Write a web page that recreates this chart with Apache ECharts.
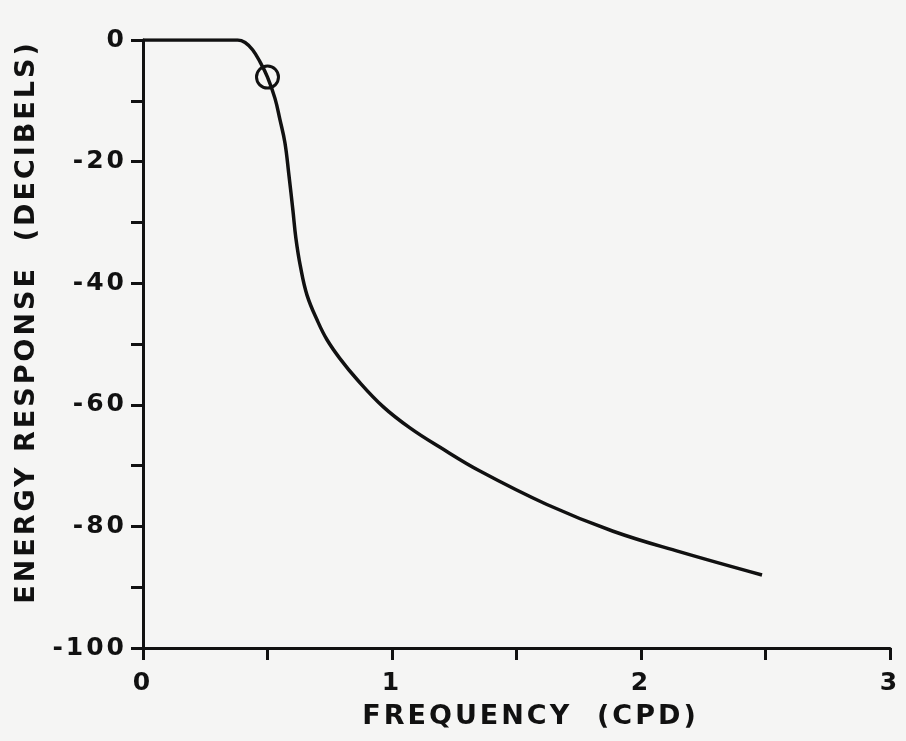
<!DOCTYPE html>
<html>
<head>
<meta charset="utf-8">
<script src="https://cdn.jsdelivr.net/npm/echarts@6/dist/echarts.min.js"></script>
<style>
  html, body { margin: 0; padding: 0; background: #f5f5f4; }
  #chart { width: 906px; height: 741px; }
</style>
</head>
<body>
<div id="chart"></div>
<script>
// Energy response of the filter versus spatial frequency
const frequency = [0, 0.2, 0.38, 0.41, 0.44, 0.47, 0.50, 0.53, 0.55, 0.57, 0.586, 0.602, 0.614, 0.632, 0.659, 0.703, 0.739, 0.791, 0.859, 0.964, 1.072, 1.193, 1.353, 1.622, 1.888, 2.157, 2.486];
const responseDb = [0, 0, 0, -0.4, -1.6, -3.6, -6.1, -9.6, -13.1, -16.9, -22.2, -28.0, -32.6, -37.2, -42.0, -46.4, -49.3, -52.4, -55.8, -60.3, -63.8, -67.0, -70.9, -76.4, -80.8, -84.2, -88.0];

// Half-power point marked with an open circle
const markerFrequency = [0.5];
const markerResponseDb = [-6.1];

const xTickLabels = ['0', '1', '2', '3'];
const yTickLabels = ['0', '-20', '-40', '-60', '-80', '-100'];

// Wide lettering-guide spacing for every piece of chart text
(function () {
  const proto = CanvasRenderingContext2D.prototype;
  const fill = proto.fillText, measure = proto.measureText;
  proto.fillText = function () { this.letterSpacing = '3px'; return fill.apply(this, arguments); };
  proto.measureText = function () { this.letterSpacing = '3px'; return measure.apply(this, arguments); };
})();

const ink = '#111111';
const font = 'DejaVu Sans';

const chart = echarts.init(document.getElementById('chart'), null, { renderer: 'canvas' });

chart.setOption({
  backgroundColor: '#f5f5f4',
  animation: false,
  grid: { left: 143, right: 16, top: 40, bottom: 93, containLabel: false },
  xAxis: {
    type: 'value',
    min: 0, max: 3, interval: 0.5,
    name: 'FREQUENCY  (CPD)',
    nameLocation: 'middle',
    nameGap: 45,
    nameTextStyle: { color: ink, fontFamily: font, fontSize: 27, fontWeight: 'bold', padding: [0, 0, 0, 28] },
    axisLine: { onZero: false, lineStyle: { color: ink, width: 3 } },
    axisTick: { inside: false, length: 12, lineStyle: { color: ink, width: 3 } },
    axisLabel: {
      color: ink, fontFamily: font, fontSize: 25, fontWeight: 'bold', margin: 21,
      formatter: v => (Number.isInteger(v) ? xTickLabels[v] : '')
    },
    splitLine: { show: false }
  },
  yAxis: {
    type: 'value',
    min: -100, max: 0, interval: 10,
    name: 'ENERGY RESPONSE  (DECIBELS)',
    nameLocation: 'middle',
    nameGap: 87,
    nameTextStyle: { color: ink, fontFamily: font, fontSize: 27, fontWeight: 'bold', padding: [0, 0, 0, 44] },
    axisLine: { onZero: false, lineStyle: { color: ink, width: 3 } },
    axisTick: { inside: false, length: 12, lineStyle: { color: ink, width: 3 } },
    axisLabel: {
      color: ink, fontFamily: font, fontSize: 25, fontWeight: 'bold', margin: 16,
      formatter: v => (v % 20 === 0 ? yTickLabels[-v / 20] : '')
    },
    splitLine: { show: false }
  },
  series: [
    {
      type: 'line',
      data: frequency.map((f, i) => [f, responseDb[i]]),
      smooth: 0.4,
      showSymbol: false,
      lineStyle: { color: ink, width: 3.5 },
      z: 3
    },
    {
      type: 'scatter',
      data: markerFrequency.map((f, i) => [f, markerResponseDb[i]]),
      symbol: 'circle',
      symbolSize: 22,
      itemStyle: { color: 'rgba(0,0,0,0)', borderColor: ink, borderWidth: 3, opacity: 1 },
      z: 4
    }
  ]
});
</script>
</body>
</html>
